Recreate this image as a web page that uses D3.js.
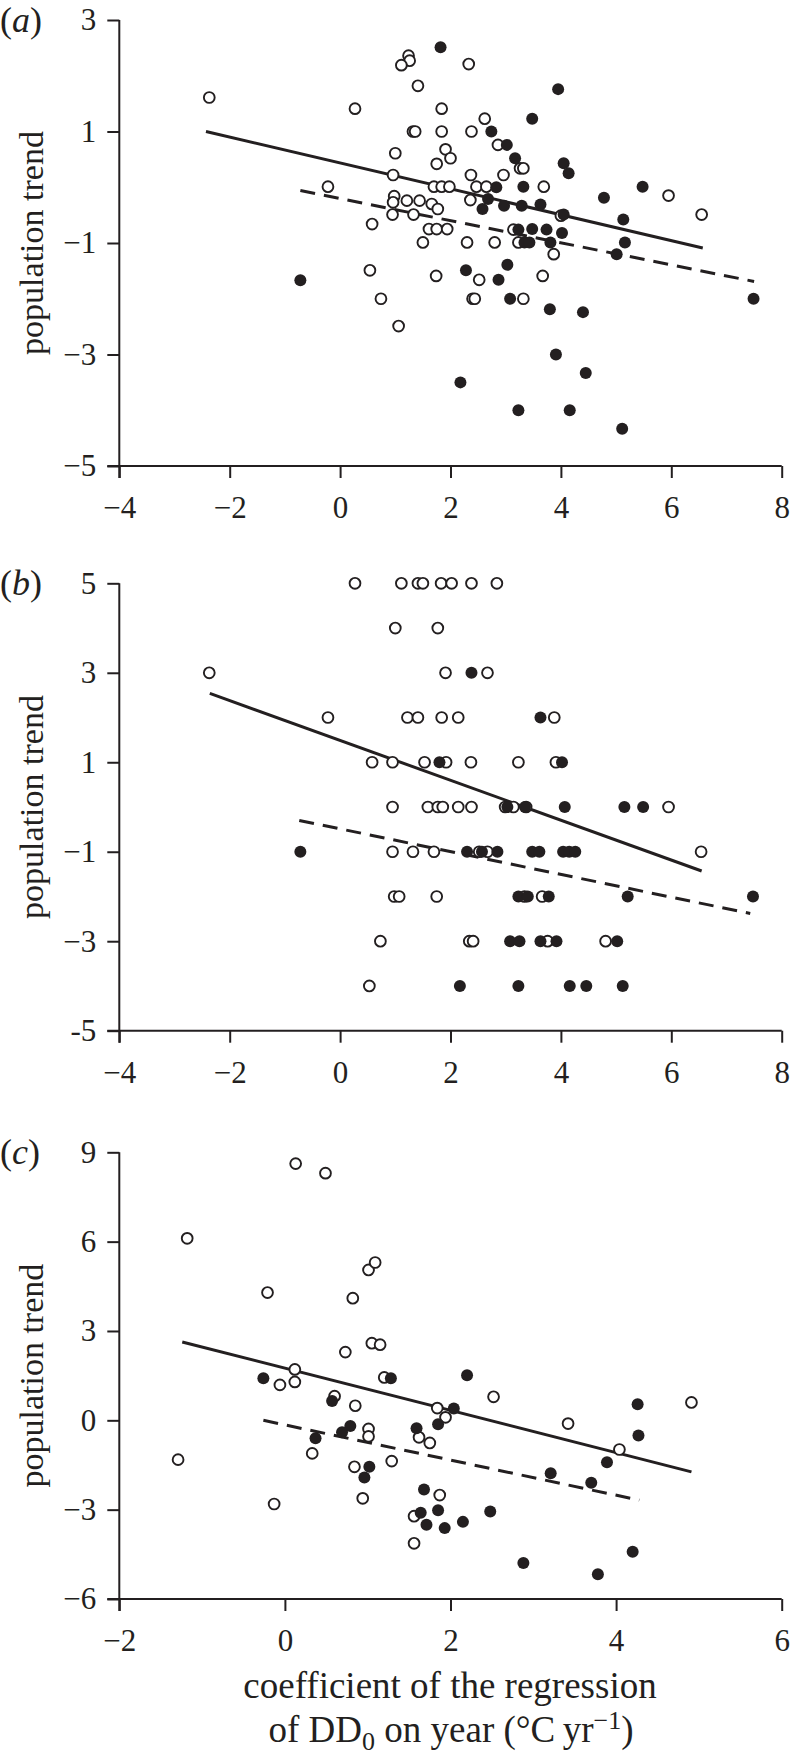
<!DOCTYPE html>
<html>
<head>
<meta charset="utf-8">
<script src="https://cdn.jsdelivr.net/npm/d3@7"></script>
<style>
  html, body { margin: 0; padding: 0; background: #fff; }
  svg { display: block; }
  svg text { font-family: "Liberation Serif", "Times New Roman", Times, "DejaVu Serif", serif; fill: #231f20; }
</style>
</head>
<body>
<svg id="chart" width="790" height="1760"></svg>
<script>
// ---------------- DATA ----------------
// Panel (a)
const aOpenX = [-2.37,0.27,1.24,1.26,1.11,2.33,1.41,1.84,2.62,1.32,1.36,1.84,2.38,2.86,1.91,1.0,2.0,1.75,3.26,3.32,0.96,2.37,2.96,-0.22,1.70,1.84,1.98,2.47,2.65,3.69,5.95,0.98,0.96,1.21,1.44,1.66,2.36,1.77,1.33,0.95,4.0,6.55,0.58,1.61,1.75,1.94,3.14,2.30,2.80,1.50,3.23,3.87,0.54,1.74,2.52,3.67,0.74,2.40,2.44,3.32,1.06];
const aOpenY = [1.61,1.41,2.36,2.27,2.19,2.21,1.82,1.41,1.23,1.0,1.0,1.0,1.0,0.76,0.68,0.61,0.52,0.42,0.34,0.34,0.22,0.22,0.22,0.01,0.01,0.01,0.01,0.01,0.01,0.01,-0.15,-0.16,-0.27,-0.24,-0.24,-0.30,-0.23,-0.39,-0.49,-0.49,-0.51,-0.49,-0.66,-0.75,-0.75,-0.75,-0.76,-0.99,-0.99,-0.99,-0.99,-1.2,-1.49,-1.59,-1.66,-1.59,-2.0,-2.0,-2.0,-2.0,-2.49];
const aFillX = [1.82,3.95,3.48,2.74,3.02,3.17,4.05,4.14,5.48,2.83,3.32,4.78,2.68,2.97,3.29,3.63,2.58,4.05,5.13,3.23,3.48,3.74,4.02,3.34,3.43,3.81,5.16,5.01,3.03,2.28,2.87,-0.72,3.08,3.80,4.40,7.49,3.91,4.45,2.18,3.23,4.16,5.11];
const aFillY = [2.51,1.76,1.23,1.0,0.76,0.52,0.43,0.25,0.01,0.0,0.01,-0.19,-0.21,-0.33,-0.33,-0.31,-0.39,-0.49,-0.58,-0.76,-0.75,-0.76,-0.82,-0.99,-0.99,-0.99,-0.99,-1.2,-1.39,-1.49,-1.66,-1.67,-2.0,-2.19,-2.24,-2.0,-3.0,-3.33,-3.50,-4.0,-4.0,-4.33];
const aSolidX = [-2.43, 6.57], aSolidY = [1.0, -1.09];
const aDashX = [-0.72, 7.5],  aDashY = [-0.06, -1.69];

// Panel (b)
const bOpenX = [0.27,1.11,1.41,1.50,1.83,2.02,2.38,2.84, 1.0,1.77, -2.37,1.91,2.67, -0.22,1.22,1.41,1.84,2.14,3.88, 0.58,0.95,1.53,1.92,2.37,3.23,3.91, 0.95,1.59,1.77,1.86,2.14,2.38,2.99,3.14,3.37,5.95, 0.95,1.32,1.70,2.52,2.67,6.54, 0.98,1.07,1.75,3.34,3.66, 0.73,2.34,2.41,3.76,4.81, 0.53];
const bOpenY = [5,5,5,5,5,5,5,5, 4,4, 3,3,3, 2,2,2,2,2,2, 1,1,1,1,1,1,1, 0,0,0,0,0,0,0,0,0,0, -1,-1,-1,-1,-1,-1, -2,-2,-2,-2,-2, -3,-3,-3,-3,-3, -4];
const bFillX = [2.38, 3.63, 1.80,4.02, 3.03,3.35,4.07,5.15,5.49, -0.72,2.30,2.57,2.85,3.48,3.61,4.04,4.15,4.26, 3.23,3.40,3.78,5.21,7.48, 3.08,3.25,3.63,3.92,5.02, 2.17,3.23,4.16,4.46,5.12];
const bFillY = [3, 2, 1,1, 0,0,0,0,0, -1,-1,-1,-1,-1,-1,-1,-1,-1, -2,-2,-2,-2,-2, -3,-3,-3,-3,-3, -4,-4,-4,-4,-4];
const bSolidX = [-2.36, 6.55], bSolidY = [2.54, -1.43];
const bDashX = [-0.74, 7.43],  bDashY = [-0.3, -2.38];

// Panel (c)
const cOpenX = [-1.18,0.13,0.49,-0.21,0.82,1.01,1.09,1.05,1.15,0.73,0.12,0.12,-0.06,1.20,0.60,0.85,2.52,1.84,1.94,4.91,3.42,1.01,1.01,1.62,1.75,4.04,0.33,-1.29,1.29,0.84,-0.13,0.94,1.87,1.56,1.56];
const cOpenY = [6.11,8.62,8.30,4.29,4.10,5.05,5.30,2.59,2.54,2.29,1.71,1.29,1.19,1.44,0.81,0.49,0.79,0.41,0.10,0.60,-0.11,-0.29,-0.54,-0.57,-0.76,-0.98,-1.11,-1.32,-1.37,-1.56,-2.81,-2.62,-2.51,-3.22,-4.13];
const cFillX = [-0.26,1.28,2.20,2.04,0.57,4.26,4.27,1.85,1.59,0.79,0.69,0.37,1.02,0.96,3.21,3.70,3.89,1.68,1.64,1.85,1.71,1.93,2.15,2.48,2.88,3.78,4.20];
const cFillY = [1.41,1.41,1.51,0.40,0.65,0.54,-0.51,-0.13,-0.27,-0.19,-0.40,-0.60,-1.56,-1.92,-1.78,-2.10,-1.41,-2.32,-3.10,-3.02,-3.51,-3.62,-3.41,-3.06,-4.79,-5.17,-4.41];
const cSolidX = [-1.24, 4.91], cSolidY = [2.63, -1.73];
const cDashX = [-0.26, 4.28],  cDashY = [0.0, -2.68];

// Ticks
const abXTicks = [-4, -2, 0, 2, 4, 6, 8];
const cXTicks = [-2, 0, 2, 4, 6];
const aYTicks = [-5, -3, -1, 1, 3];
const bYTicks = [-5, -3, -1, 1, 3, 5];
const cYTicks = [-6, -3, 0, 3, 6, 9];
const panelLetters = ["a", "b", "c"];
const yTitle = "population trend";

// ---------------- DRAWING ----------------
const FONT = '"Liberation Serif", "Times New Roman", Times, "DejaVu Serif", serif';
const INK = "#231f20";
const svg = d3.select("#chart");
const fmt = (v, special) => {
  if (special && special[v] !== undefined) return special[v];
  return v < 0 ? "\u2212" + Math.abs(v) : String(v);
};

const panels = [
  { letter: panelLetters[0], xDom: [-4, 8], yDom: [-5, 3], yRange: [466, 20], xTicks: abXTicks, yTicks: aYTicks,
    ox: aOpenX, oy: aOpenY, fx: aFillX, fy: aFillY, sx: aSolidX, sy: aSolidY, dx: aDashX, dy: aDashY },
  { letter: panelLetters[1], xDom: [-4, 8], yDom: [-5, 5], yRange: [1030.7, 583.3], xTicks: abXTicks, yTicks: bYTicks,
    ox: bOpenX, oy: bOpenY, fx: bFillX, fy: bFillY, sx: bSolidX, sy: bSolidY, dx: bDashX, dy: bDashY, special: { "-5": "-5" } },
  { letter: panelLetters[2], xDom: [-2, 6], yDom: [-6, 9], yRange: [1599, 1152.3], xTicks: cXTicks, yTicks: cYTicks,
    ox: cOpenX, oy: cOpenY, fx: cFillX, fy: cFillY, sx: cSolidX, sy: cSolidY, dx: cDashX, dy: cDashY }
];

const xLeft = 119.3, xRight = 781.7;

panels.forEach(p => {
  const x = d3.scaleLinear().domain(p.xDom).range([xLeft, xRight]);
  const y = d3.scaleLinear().domain(p.yDom).range(p.yRange);
  const g = svg.append("g");
  const y0 = p.yRange[0], yTop = p.yRange[1];

  const xa = g.append("g").attr("transform", `translate(0,${y0})`)
    .call(d3.axisBottom(x).tickValues(p.xTicks).tickSize(12).tickSizeOuter(0).tickPadding(18)
      .tickFormat(v => fmt(v)));
  const ya = g.append("g").attr("transform", `translate(${xLeft},0)`)
    .call(d3.axisLeft(y).tickValues(p.yTicks).tickSize(12).tickSizeOuter(0).tickPadding(11)
      .tickFormat(v => fmt(v, p.special)));

  [xa, ya].forEach(a => {
    a.attr("font-family", FONT);
    a.select(".domain").attr("stroke", INK).attr("stroke-width", 2);
    a.selectAll(".tick line").attr("stroke", INK).attr("stroke-width", 2);
    a.selectAll(".tick text").attr("font-size", 31).attr("font-family", FONT).attr("fill", INK);
  });
  xa.select(".domain").attr("d", `M${xLeft - 12},0H${xRight}`);
  ya.select(".domain").attr("d", `M0,${yTop}V${y0 + 12}`);

  const line = d3.line().x(d => x(d[0])).y(d => y(d[1]));
  g.append("path").datum(d3.zip(p.sx, p.sy)).attr("d", line)
    .attr("fill", "none").attr("stroke", INK).attr("stroke-width", 3);
  g.append("path").datum(d3.zip(p.dx, p.dy)).attr("d", line)
    .attr("fill", "none").attr("stroke", INK).attr("stroke-width", 3)
    .attr("stroke-dasharray", "15,9");

  g.append("g").selectAll("circle").data(d3.zip(p.ox, p.oy)).join("circle")
    .attr("cx", d => x(d[0])).attr("cy", d => y(d[1])).attr("r", 5.4)
    .attr("fill", "#fff").attr("stroke", INK).attr("stroke-width", 1.9);
  g.append("g").selectAll("circle").data(d3.zip(p.fx, p.fy)).join("circle")
    .attr("cx", d => x(d[0])).attr("cy", d => y(d[1])).attr("r", 6)
    .attr("fill", INK);

  const lab = g.append("text").attr("x", 0).attr("y", yTop + 12).attr("font-size", 36).attr("font-family", FONT);
  lab.append("tspan").text("(");
  lab.append("tspan").attr("font-style", "italic").text(p.letter);
  lab.append("tspan").text(")");

  g.append("text")
    .attr("transform", `translate(43,${(y0 + yTop) / 2}) rotate(-90)`)
    .attr("text-anchor", "middle").attr("font-size", 34).attr("font-family", FONT).text(yTitle);
});

const t1 = svg.append("text").attr("x", 450).attr("y", 1698).attr("text-anchor", "middle")
  .attr("font-size", 37).attr("font-family", FONT).text("coefficient of the regression");
const t2 = svg.append("text").attr("x", 451).attr("y", 1742).attr("text-anchor", "middle")
  .attr("font-size", 37).attr("font-family", FONT);
t2.append("tspan").text("of DD");
t2.append("tspan").attr("font-size", 26).attr("dy", 8).text("0");
t2.append("tspan").attr("dy", -8).text(" on year (\u00B0C\u2009yr");
t2.append("tspan").attr("font-size", 26).attr("dy", -13).text("\u22121");
t2.append("tspan").attr("dy", 13).text(")");
</script>
</body>
</html>
